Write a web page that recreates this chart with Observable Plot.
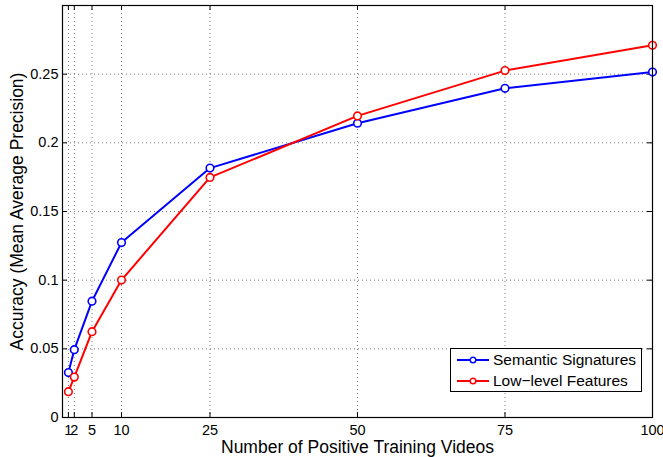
<!DOCTYPE html>
<html>
<head>
<meta charset="utf-8">
<script src="https://cdn.jsdelivr.net/npm/d3@7"></script>
<script src="https://cdn.jsdelivr.net/npm/@observablehq/plot@0.6"></script>
<style>
  html, body { margin: 0; padding: 0; background: #fff; }
  #wrap { position: relative; width: 663px; height: 457px; font-family: "Liberation Sans", Arial, sans-serif; }
  #legend { position: absolute; left: 450px; top: 348px; width: 190px; height: 42px; border: 1px solid #000; background: #fff; }
  .row { position: absolute; left: 5px; height: 20px; display: flex; align-items: center; font-size: 15.5px; color: #000; }
  .row svg { margin-right: 3px; }
</style>
</head>
<body>
<div id="wrap"></div>
<script>
const xValues = [1, 2, 5, 10, 25, 50, 75, 100];
const semantic = [0.0327, 0.0494, 0.0847, 0.1274, 0.1816, 0.2143, 0.2397, 0.2515];
const lowLevel = [0.0188, 0.0294, 0.0625, 0.1001, 0.1748, 0.2196, 0.2526, 0.2710];
const seriesNames = ["Semantic Signatures", "Low\u2212level Features"];
const seriesColors = ["#0000ff", "#ff0000"];
const xTicks = [1, 2, 5, 10, 25, 50, 75, 100];
const yTicks = [0, 0.05, 0.1, 0.15, 0.2, 0.25];
const xLabel = "Number of Positive Training Videos";
const yLabel = "Accuracy (Mean Average Precision)";

const data = [];
xValues.forEach((x, i) => {
  data.push({x, y: semantic[i], s: seriesNames[0]});
  data.push({x, y: lowLevel[i], s: seriesNames[1]});
});

const chart = Plot.plot({
  width: 663,
  height: 457,
  marginLeft: 62,
  marginRight: 11,
  marginTop: 5,
  marginBottom: 40,
  style: {fontFamily: "'Liberation Sans', Arial, sans-serif", fontSize: "14px", color: "#000", background: "#fff"},
  x: {domain: [0, 100]},
  y: {domain: [0, 0.3]},
  color: {domain: seriesNames, range: seriesColors},
  marks: [
    Plot.gridX(xTicks, {stroke: "#555", strokeOpacity: 1, strokeDasharray: "1,3", strokeWidth: 0.8}),
    Plot.gridY(yTicks, {stroke: "#555", strokeOpacity: 1, strokeDasharray: "1,3", strokeWidth: 0.8}),
    Plot.tickX(xTicks, {x: d => d, insetTop: 407, stroke: "#000"}),
    Plot.tickX(xTicks, {x: d => d, insetBottom: 407, stroke: "#000"}),
    Plot.tickY(yTicks, {y: d => d, insetRight: 585, stroke: "#000"}),
    Plot.tickY(yTicks, {y: d => d, insetLeft: 585, stroke: "#000"}),
    Plot.axisX(xTicks, {tickSize: 0, tickPadding: 7, label: null, fontSize: 14.5}),
    Plot.axisY(yTicks, {tickSize: 0, tickPadding: 4, label: null, fontSize: 14.5, tickFormat: d => String(d)}),
    Plot.line(data, {x: "x", y: "y", z: "s", stroke: "s", strokeWidth: 2}),
    Plot.dot(data, {x: "x", y: "y", stroke: "s", r: 3.8, strokeWidth: 1.6, fill: "white"}),
    Plot.frame({stroke: "#000", strokeWidth: 1.2}),
    Plot.text([xLabel], {frameAnchor: "bottom", lineAnchor: "middle", textAnchor: "middle", dy: 30, fontSize: 17.5, fill: "#000"}),
    Plot.text([yLabel], {frameAnchor: "left", lineAnchor: "middle", textAnchor: "middle", dx: -45, rotate: -90, fontSize: 17.5, fill: "#000"})
  ]
});

const wrap = document.getElementById("wrap");
wrap.appendChild(chart);

const legend = document.createElement("div");
legend.id = "legend";
seriesNames.forEach((name, i) => {
  const row = document.createElement("div");
  row.className = "row";
  row.style.top = (i === 0 ? 1 : 22) + "px";
  row.innerHTML = `<svg width="34" height="12"><line x1="1" y1="6" x2="33" y2="6" stroke="${seriesColors[i]}" stroke-width="2"/><circle cx="17" cy="6" r="2.8" fill="white" stroke="${seriesColors[i]}" stroke-width="1.4"/></svg><span>${name}</span>`;
  legend.appendChild(row);
});
wrap.appendChild(legend);
</script>
</body>
</html>
